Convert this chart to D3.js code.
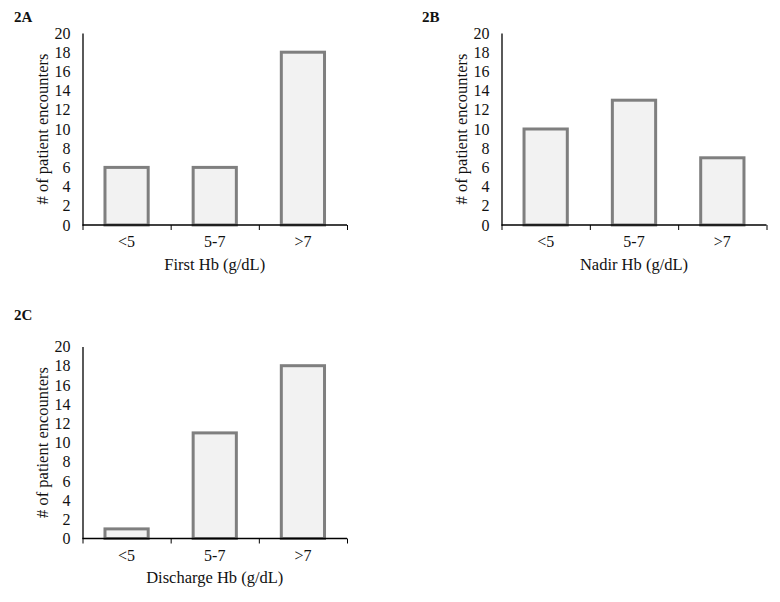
<!DOCTYPE html>
<html>
<head>
<meta charset="utf-8">
<script src="https://cdn.jsdelivr.net/npm/d3@7"></script>
<style>
  body { margin: 0; background: #fff; }
  svg { display: block; }
  text { font-family: "Liberation Serif", "Times New Roman", serif; fill: #111; }
</style>
</head>
<body>
<div id="chart"></div>
<script>
// data
const categories = ['<5', '5-7', '>7'];
const firstHb = [6, 6, 18];
const nadirHb = [10, 13, 7];
const dischargeHb = [1, 11, 18];
const yTicks = [0, 2, 4, 6, 8, 10, 12, 14, 16, 18, 20];
const panelLabels = ['2A', '2B', '2C'];
const xTitles = ['First Hb (g/dL)', 'Nadir Hb (g/dL)', 'Discharge Hb (g/dL)'];
const yTitle = '# of patient encounters';

const W = 780;
const H = 602;

// panel placement (plot area)
const panels = [
  { label: panelLabels[0], values: firstHb, title: xTitles[0], x: 82.5, y: 33, w: 264.5, h: 192, lx: 14, ly: 22 },
  { label: panelLabels[1], values: nadirHb, title: xTitles[1], x: 501.5, y: 33, w: 265, h: 192, lx: 422, ly: 22 },
  { label: panelLabels[2], values: dischargeHb, title: xTitles[2], x: 82.5, y: 346.5, w: 264.5, h: 192, lx: 14, ly: 320 }
];

const $svg = d3.select('#chart').append('svg')
  .attr('width', W)
  .attr('height', H);

function drawPanel(p) {
  const $g = $svg.append('g')
    .attr('transform', `translate(${p.x}, ${p.y})`);

  const scaleX = d3.scaleBand()
    .domain(categories)
    .range([0, p.w])
    .padding(0);

  const scaleEdge = d3.scaleLinear()
    .domain([0, categories.length])
    .range([0, p.w]);

  const scaleY = d3.scaleLinear()
    .domain([0, 20])
    .range([p.h, 0]);

  // bars
  const barW = scaleX.bandwidth() * 0.49;
  $g.append('g').attr('class', 'bars')
    .selectAll('rect')
    .data(p.values)
    .join('rect')
    .attr('x', (d, i) => scaleX(categories[i]) + (scaleX.bandwidth() - barW) / 2)
    .attr('y', d => scaleY(d))
    .attr('width', barW)
    .attr('height', d => scaleY(0) - scaleY(d))
    .attr('fill', '#f2f2f2')
    .attr('stroke', '#7f7f7f')
    .attr('stroke-width', 3);

  // y axis
  const $ay = $g.append('g')
    .call(d3.axisLeft(scaleY).tickValues(yTicks).tickSize(0).tickPadding(12));
  $ay.select('.domain').attr('stroke', '#000').attr('stroke-width', 1.3);
  $ay.selectAll('text')
    .style('font-family', '"Liberation Serif", serif')
    .style('font-size', '16px')
    .attr('fill', '#111');

  // x axis: boundary ticks
  const $ax = $g.append('g')
    .attr('transform', `translate(0, ${p.h})`)
    .call(d3.axisBottom(scaleEdge).ticks(categories.length).tickSize(5).tickFormat(''));
  $ax.select('.domain').attr('stroke', '#000').attr('stroke-width', 1.3).attr('d', `M0,0H${p.w}`);
  $ax.selectAll('.tick line').attr('stroke', '#000').attr('stroke-width', 1);

  // x category labels
  const $axl = $g.append('g')
    .attr('transform', `translate(0, ${p.h})`)
    .call(d3.axisBottom(scaleX).tickSize(0).tickPadding(11));
  $axl.select('.domain').remove();
  $axl.selectAll('text')
    .style('font-family', '"Liberation Serif", serif')
    .style('font-size', '16px')
    .attr('fill', '#111');

  // axis titles
  $g.append('text')
    .attr('x', p.w / 2)
    .attr('y', p.h + 39)
    .attr('text-anchor', 'middle')
    .attr('dominant-baseline', 'central')
    .style('font-size', '16.5px')
    .text(p.title);

  $g.append('text')
    .attr('transform', `translate(${-40}, ${p.h / 2}) rotate(-90)`)
    .attr('text-anchor', 'middle')
    .attr('dominant-baseline', 'central')
    .style('font-size', '16.5px')
    .text(yTitle);

  // panel label
  $svg.append('text')
    .attr('x', p.lx)
    .attr('y', p.ly)
    .style('font-size', '15px')
    .style('font-weight', 'bold')
    .text(p.label);
}

panels.forEach(drawPanel);
</script>
</body>
</html>
